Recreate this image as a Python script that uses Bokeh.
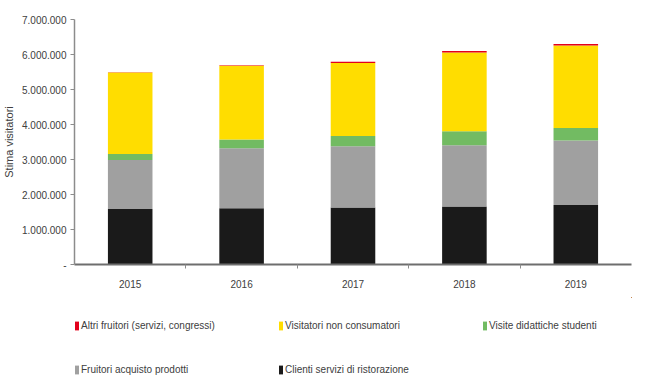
from bokeh.plotting import figure
from bokeh.models import (ColumnDataSource, Range1d, FixedTicker, CustomJSTickFormatter,
                          Legend, LegendItem)
from bokeh.layouts import column
from bokeh.embed import file_html
from bokeh.resources import INLINE

years = ["2015", "2016", "2017", "2018", "2019"]
clienti = [1586000, 1610000, 1630000, 1660000, 1700000]
fruitori = [1400000, 1710000, 1750000, 1750000, 1840000]
visite = [170000, 250000, 290000, 400000, 360000]
visitatori = [2330000, 2110000, 2090000, 2250000, 2360000]
altri = [10000, 15000, 30000, 40000, 40000]

series = ["clienti", "fruitori", "visite", "visitatori", "altri"]
labels = ["Clienti servizi di ristorazione", "Fruitori acquisto prodotti",
          "Visite didattiche studenti", "Visitatori non consumatori",
          "Altri fruitori (servizi, congressi)"]
colors = ["#1a1a1a", "#a0a0a0", "#72bb62", "#ffdd00", "#e3001b"]

xpos = [i + 0.5 for i in range(len(years))]
source = ColumnDataSource(dict(x=xpos, clienti=clienti, fruitori=fruitori,
                               visite=visite, visitatori=visitatori, altri=altri))

FONT = "Liberation Sans"
TXT = "#404040"

p = figure(width=635, height=297, output_backend="svg", toolbar_location=None,
           x_range=Range1d(0, len(years)), y_range=Range1d(0, 7000000),
           min_border_left=69, min_border_right=4, min_border_top=19, min_border_bottom=33)
p.outline_line_color = None
p.grid.visible = False

rs = p.vbar_stack(series, x="x", width=0.4, source=source, color=colors, line_color=None)

# y axis
ya = p.yaxis[0]
ya.ticker = FixedTicker(ticks=[i * 1000000 for i in range(8)], minor_ticks=[])
ya.formatter = CustomJSTickFormatter(code="""
if (tick == 0) return "-";
return String(Math.round(tick)).replace(/\\B(?=(\\d{3})+(?!\\d))/g, ".");
""")
ya.axis_line_color = "#8c8c8c"
ya.axis_line_width = 1.5
ya.major_tick_line_color = "#8c8c8c"
ya.major_tick_out = 4
ya.major_tick_in = 0
ya.minor_tick_out = 0
ya.minor_tick_in = 0
ya.major_label_text_font = FONT
ya.major_label_text_font_size = "10px"
ya.major_label_text_color = TXT
ya.major_label_standoff = 4
ya.axis_label = "Stima visitatori"
ya.axis_label_text_font = FONT
ya.axis_label_text_font_style = "normal"
ya.axis_label_text_font_size = "11px"
ya.axis_label_text_color = TXT
ya.axis_label_standoff = 4

# x axis
xa = p.xaxis[0]
xa.ticker = FixedTicker(ticks=xpos, minor_ticks=list(range(1, len(years))))
xa.major_label_overrides = {x: y for x, y in zip(xpos, years)}
xa.axis_line_color = "#6e6e6e"
xa.axis_line_width = 2
xa.major_tick_out = 0
xa.major_tick_in = 0
xa.minor_tick_out = 4
xa.minor_tick_in = 0
xa.minor_tick_line_color = "#8c8c8c"
xa.major_label_text_font = FONT
xa.major_label_text_font_size = "10px"
xa.major_label_text_color = TXT
xa.major_label_standoff = 11

# legend strip: same stacked series, kept outside its visible ranges,
# so only the legend shows
pl = figure(width=635, height=80, output_backend="svg", toolbar_location=None,
            x_range=Range1d(-1.5, -0.5), y_range=Range1d(-2, -1),
            x_axis_location=None, y_axis_location=None,
            min_border_left=0, min_border_right=0, min_border_top=0, min_border_bottom=0)
pl.outline_line_color = None
pl.grid.visible = False
rl = pl.vbar_stack(series, x="x", width=0.4, source=source, color=colors, line_color=None)

rows = [[4, 3, 2], [1, 0]]
row_loc = [(0, 46), (0, 2)]
for row, loc in zip(rows, row_loc):
    items = [LegendItem(label=labels[i], renderers=[rl[i]]) for i in row]
    leg = Legend(items=items, orientation="horizontal", location=loc,
                 label_text_font=FONT, label_text_font_size="10px",
                 label_text_color=TXT, glyph_width=5, glyph_height=11,
                 label_standoff=2, label_width=190, label_height=12, spacing=7,
                 border_line_color=None, background_fill_alpha=0,
                 padding=0, margin=0)
    pl.add_layout(leg, "center")

layout = column(p, pl, spacing=0)
open("out.html", "w").write(file_html(layout, INLINE))
